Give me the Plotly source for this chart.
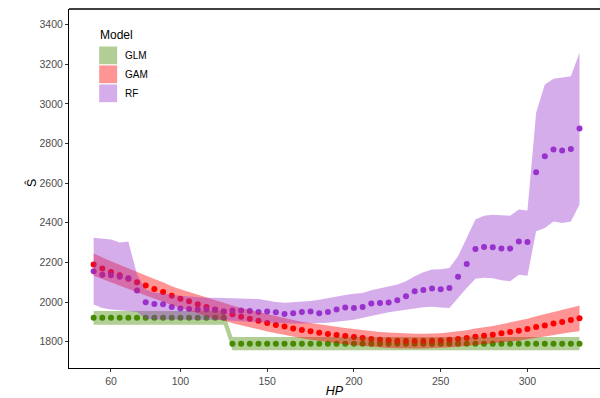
import plotly.graph_objects as go

HP = [50, 55, 60, 65, 70, 75, 80, 85, 90, 95, 100, 105, 110, 115, 120, 125, 130, 135, 140, 145,
      150, 155, 160, 165, 170, 175, 180, 185, 190, 195, 200, 205, 210, 215, 220, 225, 230, 235, 240, 245,
      250, 255, 260, 265, 270, 275, 280, 285, 290, 295, 300, 305, 310, 315, 320, 325, 330]

# GLM: fitted value and ribbon half-width
glm_fit = [1920] * 16 + [1790] * 41
glm_hw = [35] * 16 + [33] * 41

# GAM: fitted value and ribbon half-width
gam_fit = [2189, 2169, 2152, 2135, 2117, 2100, 2083, 2066, 2051, 2032, 2017, 2004, 1989, 1975, 1962, 1952,
           1938, 1926, 1916, 1906, 1894, 1884, 1876, 1867, 1859, 1852, 1845, 1839, 1833, 1828, 1823, 1818,
           1814, 1810, 1807, 1805, 1803, 1803, 1803, 1804, 1806, 1810, 1813, 1818, 1825, 1830, 1835, 1842,
           1849, 1855, 1864, 1874, 1882, 1891, 1899, 1909, 1918]
gam_hw = [56, 55, 54, 53, 52, 51, 50, 50, 49, 48, 48, 47, 47, 46, 46, 45, 45, 44, 44, 44, 43, 43, 43, 42,
          42, 42, 42, 41, 41, 41, 41, 40, 40, 39, 39, 38, 38, 37, 37, 37, 37, 38, 39, 40, 41, 42, 44, 46,
          48, 50, 52, 54, 56, 58, 60, 62, 65]

# RF: fitted value, lower and upper ribbon
rf_fit = [2155, 2138, 2135, 2127, 2120, 2058, 1999, 1990, 1989, 1975, 1967, 1965, 1962, 1962, 1960, 1952,
          1957, 1957, 1955, 1950, 1952, 1948, 1940, 1943, 1950, 1952, 1943, 1950, 1962, 1972, 1970, 1975,
          1992, 1995, 1997, 2009, 2029, 2054, 2061, 2068, 2065, 2071, 2127, 2192, 2268, 2278, 2276, 2270,
          2270, 2305, 2303, 2655, 2736, 2770, 2765, 2772, 2876]
rf_lo = [1987, 1970, 1962, 1958, 1955, 1950, 1915, 1912, 1912, 1911, 1911, 1911, 1911, 1911, 1910, 1910,
         1906, 1903, 1900, 1897, 1895, 1894, 1893, 1892, 1891, 1892, 1894, 1896, 1899, 1905, 1911, 1918,
         1928, 1938, 1948, 1955, 1962, 1968, 1973, 1976, 1972, 1970, 2020, 2071, 2117, 2122, 2120, 2110,
         2105, 2138, 2133, 2357, 2374, 2407, 2399, 2407, 2492]
rf_hi = [2324, 2320, 2315, 2301, 2305, 2140, 2062, 2048, 2042, 2036, 2032, 2028, 2024, 2022, 2021, 2020,
         2020, 2019, 2018, 2015, 2008, 2000, 1996, 1998, 2000, 2005, 2011, 2020, 2028, 2036, 2042, 2046,
         2060, 2070, 2079, 2088, 2105, 2130, 2150, 2164, 2165, 2172, 2231, 2324, 2416, 2436, 2440, 2438,
         2436, 2467, 2462, 2955, 3098, 3127, 3133, 3140, 3258]

models = ["GLM", "GAM", "RF"]
pt_colors = {"GLM": "#458B00", "GAM": "#FF0000", "RF": "#9932CC"}
fill_colors = {"GLM": "rgba(69,139,0,0.42)", "GAM": "rgba(255,0,0,0.42)", "RF": "rgba(153,50,204,0.40)"}

y_ticks = [1800, 2000, 2200, 2400, 2600, 2800, 3000, 3200, 3400]
x_ticks = [60, 100, 150, 200, 250, 300]

fits = {"GLM": glm_fit, "GAM": gam_fit, "RF": rf_fit}
lows = {"GLM": [f - h for f, h in zip(glm_fit, glm_hw)],
        "GAM": [f - h for f, h in zip(gam_fit, gam_hw)],
        "RF": rf_lo}
highs = {"GLM": [f + h for f, h in zip(glm_fit, glm_hw)],
         "GAM": [f + h for f, h in zip(gam_fit, gam_hw)],
         "RF": rf_hi}

fig = go.Figure()
# points first
for m in models:
    fig.add_trace(go.Scatter(x=HP, y=fits[m], mode="markers",
                             marker=dict(size=6, color=pt_colors[m], line=dict(width=0)),
                             showlegend=False, hoverinfo="skip"))
# ribbons on top
for m in models:
    fig.add_trace(go.Scatter(x=HP + HP[::-1], y=highs[m] + lows[m][::-1], mode="lines",
                             fill="toself", fillcolor=fill_colors[m], line=dict(width=0),
                             showlegend=False, hoverinfo="skip"))

W, H = 600, 398
L, R, T, B = 68.5, 0, 9.3, 30
pw, ph = W - L - R, H - T - B

def px(xp):
    return (xp - L) / pw

def py(yp):
    return (H - B - yp) / ph

shapes = [dict(type="line", xref="paper", yref="paper", x0=0, x1=1, y0=1, y1=1,
               layer="above", line=dict(color="black", width=1.5))]
annotations = []
annotations.append(dict(x=px(98), y=py(35), xref="paper", yref="paper", text="Model",
                        showarrow=False, xanchor="left", yanchor="middle",
                        font=dict(size=12, color="#000000")))
key_tops = [46.8, 65.7, 84.7]
for m, t in zip(models, key_tops):
    shapes.append(dict(type="rect", xref="paper", yref="paper", x0=px(98.7), x1=px(116.7),
                       y0=py(t + 17.7), y1=py(t), fillcolor=fill_colors[m], line=dict(width=0)))
    annotations.append(dict(x=px(123), y=py(t + 9), xref="paper", yref="paper", text=m,
                            showarrow=False, xanchor="left", yanchor="middle",
                            font=dict(size=10, color="#000000")))
# rotated y-axis title
annotations.append(dict(x=px(31.5), y=py(183), xref="paper", yref="paper", text="Ŝ",
                        showarrow=False, textangle=-90, xanchor="center", yanchor="middle",
                        font=dict(size=12.5, color="#000000")))

fig.update_layout(
    width=W, height=H,
    margin=dict(l=L, r=R, t=T, b=B, pad=0),
    paper_bgcolor="white", plot_bgcolor="white",
    font=dict(family="Liberation Sans, Arial, sans-serif"),
    shapes=shapes, annotations=annotations,
    showlegend=False,
    xaxis=dict(range=[35.8, 341.8], tickvals=x_ticks, ticktext=[str(v) for v in x_ticks],
               showgrid=False, zeroline=False, showline=True, linecolor="black", linewidth=1.1,
               ticks="outside", ticklen=3, tickcolor="#333333", tickwidth=1,
               tickfont=dict(size=10.5, color="#4D4D4D"), automargin=False,
               title=dict(text="<i>HP</i>", font=dict(size=12.5, color="#000000"), standoff=2)),
    yaxis=dict(range=[1667, 3479], tickvals=y_ticks, ticktext=[str(v) for v in y_ticks],
               showgrid=False, zeroline=False, showline=True, linecolor="black", linewidth=1.1,
               ticks="outside", ticklen=3, tickcolor="#333333", tickwidth=1,
               tickfont=dict(size=10.5, color="#4D4D4D"), automargin=False),
)

fig.write_html("out.html", config={"displayModeBar": False},
               post_script="document.body.style.margin='0px';document.body.style.padding='0px';")
